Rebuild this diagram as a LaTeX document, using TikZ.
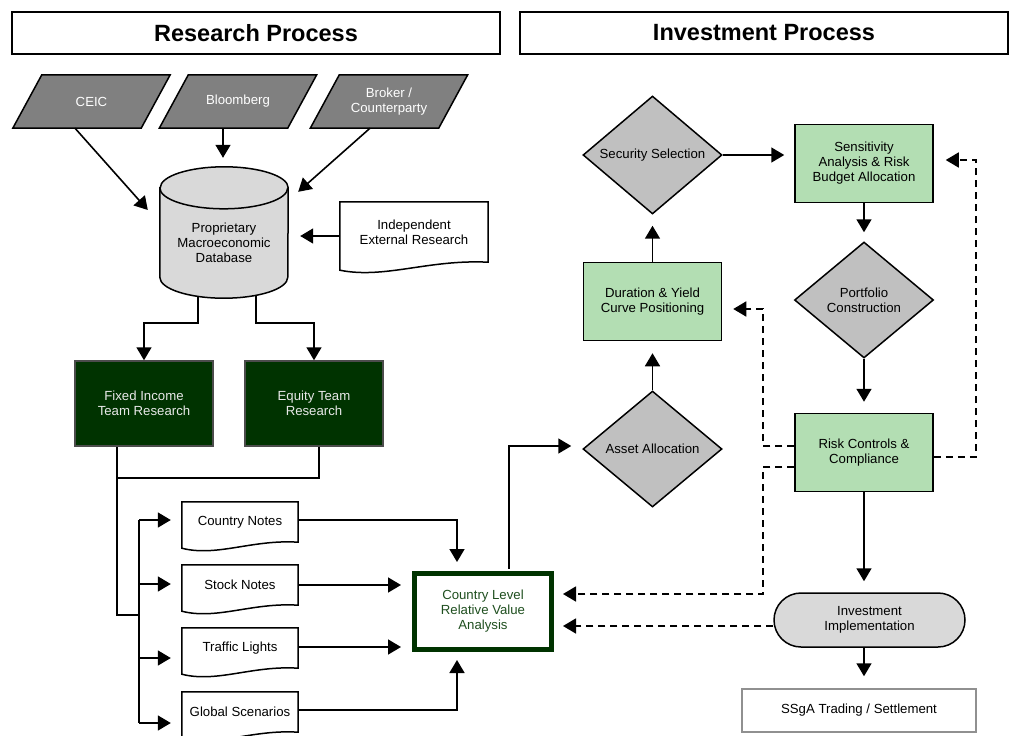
\documentclass[tikz,border=0pt]{standalone}
\usepackage{fontspec}
\setmainfont{Liberation Sans}
\usetikzlibrary{arrows.meta,shapes.geometric,backgrounds}
\definecolor{dkgreen}{HTML}{003300}
\definecolor{cltext}{HTML}{1F4F1F}
\definecolor{teamtext}{HTML}{E8E8E8}
\definecolor{srcgray}{HTML}{808080}
\definecolor{cylgray}{HTML}{D9D9D9}
\definecolor{diagray}{HTML}{C0C0C0}
\definecolor{lgreen}{HTML}{B3DEB3}
\definecolor{ssgaborder}{HTML}{909090}
\newcommand\parashape[1]{\draw[srcshape] ([xshift=14.5pt]#1.north west) -- ([xshift=14.5pt]#1.north east) -- ([xshift=-14.5pt]#1.south east) -- ([xshift=-14.5pt]#1.south west) -- cycle;}
\newcommand\docshape[4]{\draw[docline] (#1.south east) -- (#1.north east) -- (#1.north west) -- ([yshift=-#4pt]#1.south west) .. controls ([xshift=#2pt,yshift=-#4pt-9pt]#1.south west) and ([xshift=-#3pt,yshift=3pt]#1.south east) .. (#1.south east) -- cycle;}
\begin{document}
\begin{tikzpicture}[x=1pt,y=-1pt,
  base/.style={font=\fontsize{13.2}{15}\selectfont, align=center, inner sep=0pt},
  title/.style={draw, line width=1.5pt, minimum width=488pt, minimum height=42pt, inner sep=0pt, font=\fontsize{23.5}{28}\selectfont\bfseries},
  src/.style={base, text=white, minimum width=128pt, minimum height=53pt},
  srcshape/.style={fill=srcgray, draw=black, line width=1.5pt},
  cylshape/.style={fill=cylgray, draw=black, line width=1.5pt},
  docline/.style={draw=black, line width=1.5pt, fill=white},
  docnode/.style={base},
  team/.style={base, fill=dkgreen, draw=black!70, line width=1.5pt, text=teamtext, minimum width=138pt, minimum height=85pt},
  greenbox/.style={base, fill=lgreen, draw=black, line width=1.5pt, minimum width=138pt, minimum height=78pt},
  dia/.style={base, shape=diamond, fill=diagray, draw=black, line width=1.5pt, minimum width=139pt, minimum height=116pt},
  clbox/.style={base, draw=dkgreen, line width=5pt, fill=white, text=cltext, minimum width=137pt, minimum height=76pt},
  oval/.style={base, rectangle, rounded corners=27pt, fill=cylgray, draw=black, line width=1.5pt, minimum width=191pt, minimum height=54pt},
  ssga/.style={base, draw=ssgaborder, line width=1.5pt, minimum width=234pt, minimum height=43pt},
  line/.style={line width=1.6pt},
  arr/.style={line width=1.6pt, -{Triangle[length=13pt,width=15pt]}},
  dsh/.style={arr, dash pattern=on 7pt off 5pt}
]
\useasboundingbox (0,0) rectangle (1012,736);

% titles
\node[title] (rp) at (256,33) {Research Process};
\node[title] (ip) at (764,33) {Investment Process};

% sources
\node[src] (ceic) at (91.5,101.5) {CEIC};
\node[src] (bloom) at (238,101.5) {Bloomberg};
\node[src] (broker) at (389,101.5) {Broker /\\Counterparty};

% database
\node[base, minimum width=128pt, minimum height=110pt] (db) at (224,243) {Proprietary\\Macroeconomic\\Database};

% independent research
\node[docnode, minimum width=148pt, minimum height=60pt] (ind) at (414,232) {Independent\\External Research};

% teams
\node[team] (fi) at (144,403.5) {Fixed Income\\Team Research};
\node[team] (eq) at (314,403.5) {Equity Team\\Research};

% notes
\node[docnode, minimum width=116pt, minimum height=40pt] (cn) at (240,522) {\raisebox{-3pt}{Country Notes}};
\node[docnode, minimum width=116pt, minimum height=40pt] (sn) at (240,585) {\raisebox{-3pt}{Stock Notes}};
\node[docnode, minimum width=116pt, minimum height=40pt] (tl) at (240,648) {\raisebox{-3pt}{Traffic Lights}};
\node[docnode, minimum width=116pt, minimum height=40pt] (gs) at (240,712) {\raisebox{-2pt}{Global Scenarios}};

% country level
\node[clbox] (cl) at (483,611.5) {Country Level\\Relative Value\\Analysis};

% investment process
\node[dia] (aa) at (652.5,449) {Asset Allocation};
\node[greenbox] (dur) at (652.5,301.5) {Duration \& Yield\\Curve Positioning};
\node[dia] (sec) at (652.5,155) {Security Selection};
\node[greenbox] (sens) at (864,163.5) {Sensitivity\\Analysis \& Risk\\Budget Allocation};
\node[dia] (port) at (864,300) {Portfolio\\Construction};
\node[greenbox] (risk) at (864,452.5) {Risk Controls \&\\Compliance};
\node[oval] (inv) at (869.5,620) {Investment\\Implementation};
\node[ssga] (ssg) at (859,710.5) {SSgA Trading / Settlement};

\coordinate (br) at (139,615);

% background shapes
\begin{scope}[on background layer]
  \parashape{ceic}
  \parashape{bloom}
  \parashape{broker}
  \draw[cylshape] (db.north west) -- ([yshift=21pt]db.south west)
     arc[start angle=180, end angle=360, x radius=64pt, y radius=21pt]
     -- (db.north east)
     arc[start angle=0, end angle=180, x radius=64pt, y radius=21pt] -- cycle;
  \draw[line width=1.5pt] (db.north west) arc[start angle=180, end angle=360, x radius=64pt, y radius=21pt];
  \docshape{ind}{45}{60}{8}
  \docshape{cn}{35}{46}{6}
  \docshape{sn}{35}{46}{6}
  \docshape{tl}{35}{46}{6}
  \docshape{gs}{35}{46}{6}
\end{scope}

% research arrows
\draw[arr] ([xshift=-16.5pt]ceic.south) -- ([xshift=-12pt,yshift=33pt]db.west);
\draw[arr, shorten >=30pt] ([xshift=-15pt]bloom.south) -- ([xshift=-15pt]bloom.south |- db.north);
\draw[arr] ([xshift=-19pt]broker.south) -- ([xshift=10pt,yshift=-4pt]db.north east);
\draw[arr, shorten >=12pt] ([yshift=-4pt]ind.west) -- ([yshift=-4pt]ind.west -| db.east);
\draw[arr] ([xshift=-26pt,yshift=2pt]db.south) -- ([xshift=-26pt,yshift=-25pt]db.south) -| (fi.north);
\draw[arr] ([xshift=32pt,yshift=2pt]db.south) -- ([xshift=32pt,yshift=-25pt]db.south) -| (eq.north);

% team outputs
\draw[line] ([xshift=-27pt]fi.south) |- (br);
\draw[line] ([xshift=5pt]eq.south) |- ([xshift=-27pt,yshift=-31pt]fi.south);
\draw[line] ([yshift=2pt]br |- cn.west) -- ([yshift=-11pt]br |- gs.west);
\draw[arr, shorten >=11pt] ([yshift=2pt]br |- cn.west) -- ([yshift=2pt]cn.west);
\draw[arr, shorten >=11pt] ([yshift=1pt]br |- sn.west) -- ([yshift=1pt]sn.west);
\draw[arr, shorten >=11pt] ([yshift=-10pt]br |- tl.west) -- ([yshift=-10pt]tl.west);
\draw[arr, shorten >=11pt] ([yshift=-11pt]br |- gs.west) -- ([yshift=-11pt]gs.west);

% notes to country level
\draw[arr, shorten >=9pt] ([yshift=2pt]cn.east) -| ([xshift=-26pt]cl.north);
\draw[arr, shorten >=11pt] (sn.east) -- (sn.east -| cl.west);
\draw[arr, shorten >=11pt] ([yshift=1pt]tl.east) -- ([yshift=1pt]tl.east -| cl.west);
\draw[arr, shorten >=8pt] ([yshift=2pt]gs.east) -| ([xshift=-26pt]cl.south);

% country level to asset allocation
\draw[arr, shorten >=11pt] ([xshift=26pt,yshift=2.5pt]cl.north) |- ([yshift=3pt]aa.west);

% investment chain
\draw[arr, shorten >=12pt] (aa.north) -- (dur.south);
\draw[arr, shorten >=11pt] (dur.north) -- (sec.south);
\draw[arr, shorten >=10pt] (sec.east) -- (sec.east -| sens.west);
\draw[arr, shorten >=9pt] (sens.south) -- (port.north);
\draw[arr, shorten >=11pt] (port.south) -- (risk.north);
\draw[arr, shorten >=11pt] (risk.south) -- (risk.south |- inv.north);
\draw[arr, shorten >=12pt] (risk.south |- inv.south) -- (risk.south |- ssg.north);

% dashed feedback
\draw[dsh, shorten >=12pt] ([yshift=-4.5pt]risk.east) -- ++(42,0) |- ([yshift=3.5pt]sens.east);
\draw[dsh, shorten >=11pt] ([yshift=6.5pt]risk.west) -- ++(-31,0) |- ([yshift=-7.5pt]dur.east);
\draw[dsh, shorten >=9pt] ([yshift=-14.5pt]risk.west) -- ++(-31,0) |- ([yshift=17.5pt]cl.east);
\draw[dsh, shorten >=9pt] ([yshift=-6pt]inv.west) -- ([yshift=-6pt]inv.west -| cl.east);
\end{tikzpicture}
\end{document}
